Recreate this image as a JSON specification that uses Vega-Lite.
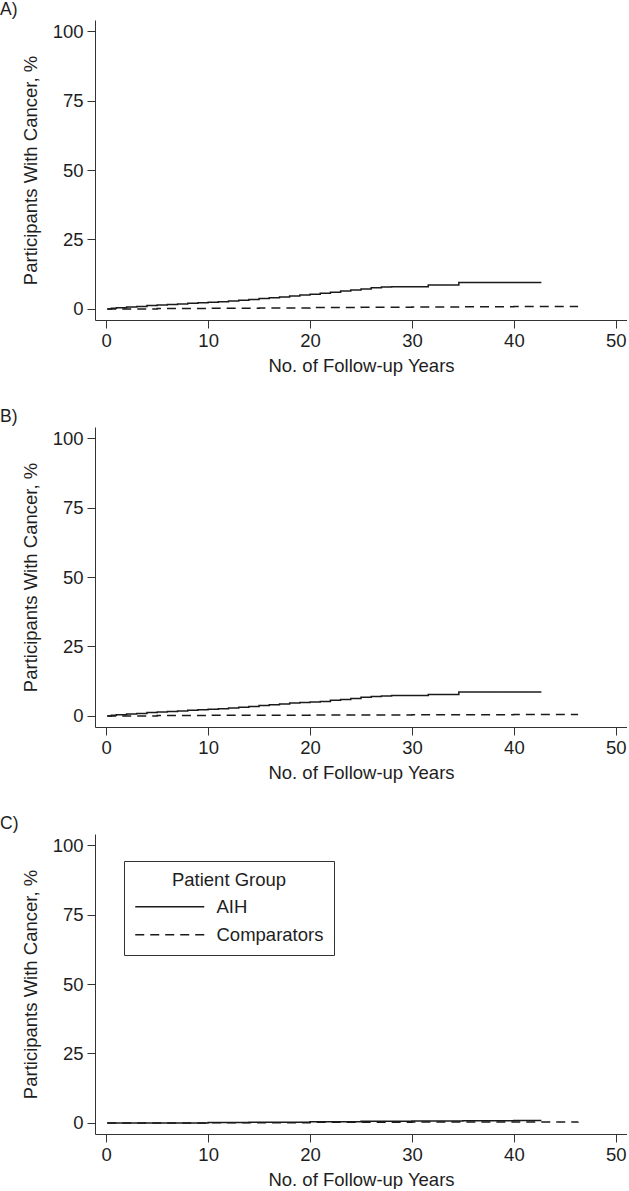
{
  "$schema": "https://vega.github.io/schema/vega-lite/v6.json",
  "padding": {"left": 0, "top": 0, "right": 0, "bottom": 0},
  "background": "white",
  "config": {
    "font": "Liberation Sans",
    "view": {"stroke": null},
    "axis": {
      "grid": false,
      "domainColor": "#333333",
      "tickColor": "#333333",
      "tickSize": 8,
      "labelFontSize": 18.5,
      "titleFontSize": 18.5,
      "titleFontWeight": "normal",
      "labelColor": "#1e1e1e",
      "titleColor": "#1e1e1e",
      "labelPadding": 4
    },
    "title": {"fontSize": 17.5, "fontWeight": "normal", "color": "#1e1e1e", "anchor": "start", "frame": "group", "dx": -95, "offset": 2}
  },
  "datasets": {
    "km": [
      {"panel": "A", "group": "AIH", "years": 0.1, "pct": 0},
      {"panel": "A", "group": "AIH", "years": 0.5, "pct": 0.2},
      {"panel": "A", "group": "AIH", "years": 1, "pct": 0.4},
      {"panel": "A", "group": "AIH", "years": 2, "pct": 0.7},
      {"panel": "A", "group": "AIH", "years": 3, "pct": 0.9},
      {"panel": "A", "group": "AIH", "years": 4, "pct": 1.2},
      {"panel": "A", "group": "AIH", "years": 5, "pct": 1.4},
      {"panel": "A", "group": "AIH", "years": 6, "pct": 1.6},
      {"panel": "A", "group": "AIH", "years": 7, "pct": 1.8},
      {"panel": "A", "group": "AIH", "years": 8, "pct": 2.0},
      {"panel": "A", "group": "AIH", "years": 9, "pct": 2.2},
      {"panel": "A", "group": "AIH", "years": 10, "pct": 2.4},
      {"panel": "A", "group": "AIH", "years": 11, "pct": 2.6},
      {"panel": "A", "group": "AIH", "years": 12, "pct": 2.8},
      {"panel": "A", "group": "AIH", "years": 13, "pct": 3.1},
      {"panel": "A", "group": "AIH", "years": 14, "pct": 3.4},
      {"panel": "A", "group": "AIH", "years": 15, "pct": 3.7},
      {"panel": "A", "group": "AIH", "years": 16, "pct": 4.0},
      {"panel": "A", "group": "AIH", "years": 17, "pct": 4.3},
      {"panel": "A", "group": "AIH", "years": 18, "pct": 4.6},
      {"panel": "A", "group": "AIH", "years": 19, "pct": 5.0},
      {"panel": "A", "group": "AIH", "years": 20, "pct": 5.3},
      {"panel": "A", "group": "AIH", "years": 21, "pct": 5.6},
      {"panel": "A", "group": "AIH", "years": 22, "pct": 6.0},
      {"panel": "A", "group": "AIH", "years": 23, "pct": 6.4},
      {"panel": "A", "group": "AIH", "years": 24, "pct": 6.8},
      {"panel": "A", "group": "AIH", "years": 25, "pct": 7.2},
      {"panel": "A", "group": "AIH", "years": 26, "pct": 7.6},
      {"panel": "A", "group": "AIH", "years": 27, "pct": 7.9},
      {"panel": "A", "group": "AIH", "years": 28, "pct": 8.0},
      {"panel": "A", "group": "AIH", "years": 31.6, "pct": 8.6},
      {"panel": "A", "group": "AIH", "years": 34.6, "pct": 9.5},
      {"panel": "A", "group": "AIH", "years": 42.7, "pct": 9.5},
      {"panel": "A", "group": "Comparators", "years": 0.1, "pct": 0},
      {"panel": "A", "group": "Comparators", "years": 5, "pct": 0.1},
      {"panel": "A", "group": "Comparators", "years": 10, "pct": 0.2},
      {"panel": "A", "group": "Comparators", "years": 15, "pct": 0.3},
      {"panel": "A", "group": "Comparators", "years": 20, "pct": 0.5},
      {"panel": "A", "group": "Comparators", "years": 25, "pct": 0.6},
      {"panel": "A", "group": "Comparators", "years": 30, "pct": 0.7},
      {"panel": "A", "group": "Comparators", "years": 35, "pct": 0.8},
      {"panel": "A", "group": "Comparators", "years": 40, "pct": 0.9},
      {"panel": "A", "group": "Comparators", "years": 46.3, "pct": 0.9},
      {"panel": "B", "group": "AIH", "years": 0.1, "pct": 0},
      {"panel": "B", "group": "AIH", "years": 0.5, "pct": 0.2},
      {"panel": "B", "group": "AIH", "years": 1, "pct": 0.4},
      {"panel": "B", "group": "AIH", "years": 2, "pct": 0.7},
      {"panel": "B", "group": "AIH", "years": 3, "pct": 0.9},
      {"panel": "B", "group": "AIH", "years": 4, "pct": 1.2},
      {"panel": "B", "group": "AIH", "years": 5, "pct": 1.4},
      {"panel": "B", "group": "AIH", "years": 6, "pct": 1.6},
      {"panel": "B", "group": "AIH", "years": 7, "pct": 1.8},
      {"panel": "B", "group": "AIH", "years": 8, "pct": 2.0},
      {"panel": "B", "group": "AIH", "years": 9, "pct": 2.2},
      {"panel": "B", "group": "AIH", "years": 10, "pct": 2.4},
      {"panel": "B", "group": "AIH", "years": 11, "pct": 2.6},
      {"panel": "B", "group": "AIH", "years": 12, "pct": 2.8},
      {"panel": "B", "group": "AIH", "years": 13, "pct": 3.1},
      {"panel": "B", "group": "AIH", "years": 14, "pct": 3.4},
      {"panel": "B", "group": "AIH", "years": 15, "pct": 3.7},
      {"panel": "B", "group": "AIH", "years": 16, "pct": 4.0},
      {"panel": "B", "group": "AIH", "years": 17, "pct": 4.3},
      {"panel": "B", "group": "AIH", "years": 18, "pct": 4.6},
      {"panel": "B", "group": "AIH", "years": 19, "pct": 4.8},
      {"panel": "B", "group": "AIH", "years": 20, "pct": 5.0},
      {"panel": "B", "group": "AIH", "years": 21, "pct": 5.2},
      {"panel": "B", "group": "AIH", "years": 22, "pct": 5.6},
      {"panel": "B", "group": "AIH", "years": 23, "pct": 5.9},
      {"panel": "B", "group": "AIH", "years": 24, "pct": 6.3},
      {"panel": "B", "group": "AIH", "years": 25, "pct": 6.7},
      {"panel": "B", "group": "AIH", "years": 26, "pct": 7.0},
      {"panel": "B", "group": "AIH", "years": 27, "pct": 7.2},
      {"panel": "B", "group": "AIH", "years": 28, "pct": 7.3},
      {"panel": "B", "group": "AIH", "years": 31.6, "pct": 7.7},
      {"panel": "B", "group": "AIH", "years": 34.6, "pct": 8.6},
      {"panel": "B", "group": "AIH", "years": 42.7, "pct": 8.6},
      {"panel": "B", "group": "Comparators", "years": 0.1, "pct": 0},
      {"panel": "B", "group": "Comparators", "years": 5, "pct": 0.1},
      {"panel": "B", "group": "Comparators", "years": 10, "pct": 0.2},
      {"panel": "B", "group": "Comparators", "years": 20, "pct": 0.3},
      {"panel": "B", "group": "Comparators", "years": 30, "pct": 0.4},
      {"panel": "B", "group": "Comparators", "years": 40, "pct": 0.5},
      {"panel": "B", "group": "Comparators", "years": 46.3, "pct": 0.5},
      {"panel": "C", "group": "AIH", "years": 0.1, "pct": 0},
      {"panel": "C", "group": "AIH", "years": 10, "pct": 0.1},
      {"panel": "C", "group": "AIH", "years": 14, "pct": 0.2},
      {"panel": "C", "group": "AIH", "years": 20, "pct": 0.4},
      {"panel": "C", "group": "AIH", "years": 25, "pct": 0.6},
      {"panel": "C", "group": "AIH", "years": 30, "pct": 0.7},
      {"panel": "C", "group": "AIH", "years": 35, "pct": 0.8},
      {"panel": "C", "group": "AIH", "years": 40, "pct": 0.9},
      {"panel": "C", "group": "AIH", "years": 42.7, "pct": 0.9},
      {"panel": "C", "group": "Comparators", "years": 0.1, "pct": 0},
      {"panel": "C", "group": "Comparators", "years": 10, "pct": 0.05},
      {"panel": "C", "group": "Comparators", "years": 20, "pct": 0.2},
      {"panel": "C", "group": "Comparators", "years": 30, "pct": 0.3},
      {"panel": "C", "group": "Comparators", "years": 40, "pct": 0.35},
      {"panel": "C", "group": "Comparators", "years": 46.3, "pct": 0.4}
    ]
  },
  "spacing": 32,
  "resolve": {"legend": {"strokeDash": "independent"}, "scale": {"strokeDash": "independent"}},
  "vconcat": [
    {
      "title": "A)",
      "width": 532, "height": 300,
      "data": {"name": "km"},
      "transform": [{"filter": "datum.panel === 'A'"}],
      "mark": {"type": "line", "interpolate": "step-after", "color": "#1a1a1a", "strokeWidth": 1.5},
      "encoding": {
        "x": {"field": "years", "type": "quantitative", "scale": {"domain": [-1.1, 51.1], "nice": false, "zero": false}, "axis": {"values": [0, 10, 20, 30, 40, 50], "title": "No. of Follow-up Years", "titlePadding": 7, "labelPadding": 3}},
        "y": {"field": "pct", "type": "quantitative", "scale": {"domain": [-4, 104], "nice": false, "zero": false}, "axis": {"values": [0, 25, 50, 75, 100], "title": "Participants With Cancer, %", "titlePadding": 12}},
        "strokeDash": {"field": "group", "type": "nominal", "scale": {"domain": ["AIH", "Comparators"], "range": [[1, 0], [9, 6]]}, "legend": null}
      }
    },
    {
      "title": "B)",
      "width": 532, "height": 300,
      "data": {"name": "km"},
      "transform": [{"filter": "datum.panel === 'B'"}],
      "mark": {"type": "line", "interpolate": "step-after", "color": "#1a1a1a", "strokeWidth": 1.5},
      "encoding": {
        "x": {"field": "years", "type": "quantitative", "scale": {"domain": [-1.1, 51.1], "nice": false, "zero": false}, "axis": {"values": [0, 10, 20, 30, 40, 50], "title": "No. of Follow-up Years", "titlePadding": 7, "labelPadding": 3}},
        "y": {"field": "pct", "type": "quantitative", "scale": {"domain": [-4, 104], "nice": false, "zero": false}, "axis": {"values": [0, 25, 50, 75, 100], "title": "Participants With Cancer, %", "titlePadding": 12}},
        "strokeDash": {"field": "group", "type": "nominal", "scale": {"domain": ["AIH", "Comparators"], "range": [[1, 0], [9, 6]]}, "legend": null}
      }
    },
    {
      "title": "C)",
      "width": 532, "height": 300,
      "data": {"name": "km"},
      "transform": [{"filter": "datum.panel === 'C'"}],
      "mark": {"type": "line", "interpolate": "step-after", "color": "#1a1a1a", "strokeWidth": 1.5},
      "encoding": {
        "x": {"field": "years", "type": "quantitative", "scale": {"domain": [-1.1, 51.1], "nice": false, "zero": false}, "axis": {"values": [0, 10, 20, 30, 40, 50], "title": "No. of Follow-up Years", "titlePadding": 7, "labelPadding": 3}},
        "y": {"field": "pct", "type": "quantitative", "scale": {"domain": [-4, 104], "nice": false, "zero": false}, "axis": {"values": [0, 25, 50, 75, 100], "title": "Participants With Cancer, %", "titlePadding": 12}},
        "strokeDash": {"field": "group", "type": "nominal", "scale": {"domain": ["AIH", "Comparators"], "range": [[1, 0], [9, 6]]},
          "legend": {"title": "Patient Group", "orient": "none", "legendX": 29, "legendY": 27, "strokeColor": "#333333", "padding": 10,
            "titleFontSize": 18.5, "titleFontWeight": "normal", "titleColor": "#1e1e1e", "titleAnchor": "middle", "titlePadding": 8,
            "labelFontSize": 18.5, "labelColor": "#1e1e1e", "symbolType": "M-1.6,0H12.2", "symbolSize": 100, "symbolStrokeWidth": 1.5, "symbolStrokeColor": "#1a1a1a", "labelOffset": 64, "rowPadding": 9}}
      }
    }
  ]
}
